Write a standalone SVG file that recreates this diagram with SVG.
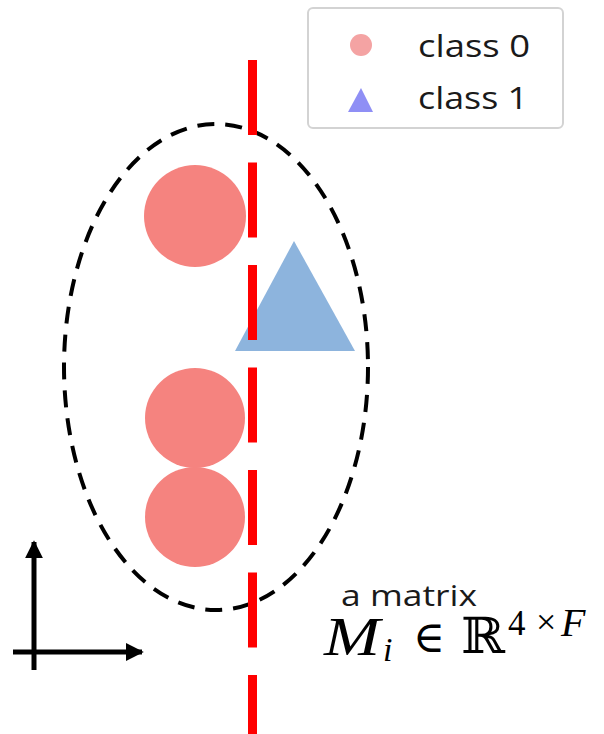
<svg xmlns="http://www.w3.org/2000/svg" width="604" height="734" viewBox="0 0 604 734">
<style>
.c0{fill:#f5837f}
.c1{fill:#8db4dd}
.lbl{font-family:"Open Sans","Liberation Sans",sans-serif;fill:#1a1a1a}
.math{font-family:"Liberation Serif","DejaVu Serif",serif;fill:#000}
.ax{stroke:#000;stroke-width:5;fill:none}
</style>
<defs>
<marker id="ah" viewBox="0 0 10 10" refX="9" refY="5" markerWidth="3.6" markerHeight="3.6" orient="auto" markerUnits="strokeWidth">
<path d="M0,0 L10,5 L0,10 z" fill="#000"/>
</marker>
</defs>
<rect width="604" height="734" fill="#fff"/>
<g id="ellipse">
<ellipse cx="216" cy="367" rx="152" ry="243" fill="none" stroke="#000" stroke-width="4" stroke-dasharray="17 11"/>
</g>
<g id="point-a"><circle class="c0" cx="195" cy="216" r="51"/></g>
<g id="point-b"><circle class="c0" cx="195" cy="418" r="50"/></g>
<g id="point-c"><circle class="c0" cx="195" cy="517" r="50"/></g>
<g id="point-d"><polygon class="c1" points="294,241 355,351 235,351"/></g>
<g id="split-line">
<line x1="252.5" y1="60" x2="252.5" y2="734" stroke="#ff0000" stroke-width="9" stroke-dasharray="75 27.5"/>
</g>
<g id="legend">
<rect x="308" y="8" width="255" height="120" rx="5" fill="#fff" stroke="#d3d3d3" stroke-width="2"/>
<circle cx="361" cy="45" r="11" fill="#f4a3a3"/>
<polygon points="361,88 373,112 348,112" fill="#8f8ff5"/>
<text class="lbl" x="418" y="57" font-size="31" textLength="112" lengthAdjust="spacingAndGlyphs">class 0</text>
<text class="lbl" x="418" y="109" font-size="31" textLength="110" lengthAdjust="spacingAndGlyphs">class 1</text>
</g>
<g id="axes">
<line class="ax" x1="34" y1="670" x2="34" y2="542" marker-end="url(#ah)"/>
<line class="ax" x1="13" y1="652" x2="142" y2="652" marker-end="url(#ah)"/>
</g>
<g id="matrix-label">
<text class="lbl" x="341" y="606" font-size="29" textLength="136" lengthAdjust="spacingAndGlyphs">a matrix</text>
<text class="math" x="324" y="655" font-size="54" font-style="italic" textLength="56" lengthAdjust="spacingAndGlyphs">M</text>
<text class="math" x="383" y="661" font-size="34" font-style="italic">i</text>
<text class="math" x="413" y="652" font-size="44" textLength="32" lengthAdjust="spacingAndGlyphs">∈</text>
<text class="math" x="461" y="653" font-size="50" font-family="DejaVu Serif" textLength="44" lengthAdjust="spacingAndGlyphs">ℝ</text>
<text class="math" x="508" y="635" font-size="35">4</text>
<text class="math" x="536" y="634" font-size="36">×</text>
<text class="math" x="561" y="636" font-size="40" font-style="italic">F</text>
</g>
</svg>
